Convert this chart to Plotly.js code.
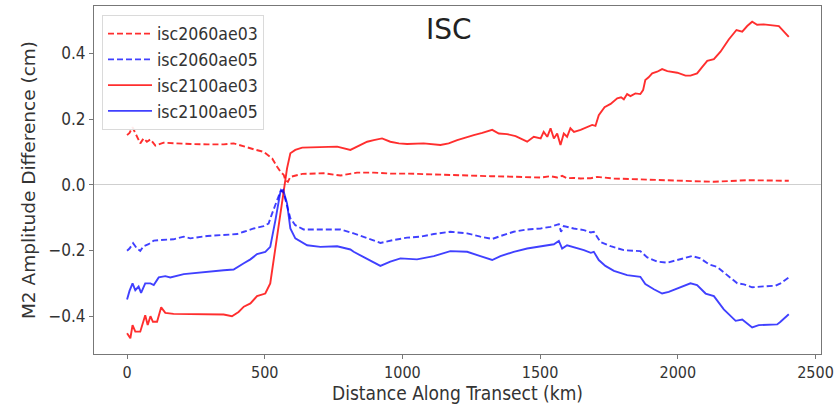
<!DOCTYPE html>
<html><head><meta charset="utf-8">
<script src="https://cdn.plot.ly/plotly-3.0.1.min.js"></script>
<style>html,body{margin:0;padding:0;background:#fff}#chart{width:838px;height:404px}</style>
</head><body><div id="chart"></div>
<script>
// isc2100ae03 (red solid)
const x2100ae03 = [0,12,20,30,48,66,75,85,94,109,124,139,169,230,351,381,405,424,448,472,502,520,545,569,581,593,611,636,714,763,811,835,872,896,926,956,987,1017,1077,1138,1168,1199,1235,1259,1290,1326,1350,1380,1411,1441,1453,1477,1502,1513,1526,1538,1550,1562,1574,1586,1598,1610,1623,1647,1671,1689,1701,1713,1734,1756,1780,1794,1804,1816,1828,1846,1864,1874,1882,1894,1907,1925,1943,1962,1998,2028,2046,2070,2089,2107,2131,2155,2185,2213,2234,2252,2270,2288,2312,2355,2367,2403];
const y2100ae03 = [-0.452,-0.467,-0.427,-0.447,-0.447,-0.397,-0.427,-0.400,-0.417,-0.417,-0.373,-0.390,-0.393,-0.393,-0.395,-0.400,-0.387,-0.371,-0.361,-0.339,-0.331,-0.300,-0.158,-0.016,0.050,0.096,0.106,0.113,0.116,0.116,0.106,0.116,0.131,0.136,0.141,0.131,0.126,0.124,0.126,0.121,0.126,0.136,0.146,0.151,0.158,0.167,0.156,0.154,0.148,0.136,0.131,0.146,0.141,0.161,0.146,0.172,0.141,0.156,0.121,0.156,0.146,0.172,0.161,0.167,0.177,0.182,0.179,0.212,0.236,0.246,0.263,0.266,0.260,0.276,0.270,0.278,0.276,0.288,0.319,0.327,0.339,0.344,0.352,0.346,0.341,0.332,0.332,0.339,0.359,0.377,0.382,0.405,0.442,0.471,0.466,0.483,0.496,0.487,0.488,0.485,0.483,0.450];
// isc2060ae03 (red dashed)
const x2060ae03 = [0,9,20,36,48,60,72,85,103,133,169,230,291,351,387,424,460,496,527,545,557,569,575,584,593,636,714,775,835,896,956,1017,1077,1138,1199,1259,1320,1380,1441,1502,1538,1562,1580,1598,1622,1647,1684,1707,1768,1889,2010,2131,2252,2325,2403];
const y2060ae03 = [0.151,0.158,0.175,0.146,0.126,0.141,0.131,0.138,0.119,0.128,0.126,0.124,0.123,0.123,0.126,0.116,0.108,0.100,0.080,0.055,0.040,0.030,0.014,0.009,0.024,0.033,0.035,0.028,0.037,0.037,0.034,0.034,0.032,0.031,0.030,0.028,0.026,0.025,0.023,0.022,0.026,0.022,0.027,0.020,0.021,0.019,0.020,0.024,0.019,0.016,0.014,0.009,0.014,0.012,0.012];
// isc2060ae05 (blue dashed)
const x2060ae05 = [0,9,22,36,48,60,78,97,121,169,206,230,291,351,400,424,460,496,514,527,545,559,569,581,593,611,641,714,775,823,872,920,968,1017,1065,1114,1174,1235,1283,1326,1356,1404,1453,1502,1538,1568,1576,1586,1622,1659,1684,1695,1719,1756,1804,1864,1889,1925,1962,2010,2052,2082,2113,2143,2179,2216,2240,2270,2300,2355,2373,2403];
const y2060ae05 = [-0.201,-0.194,-0.178,-0.194,-0.201,-0.187,-0.181,-0.170,-0.168,-0.166,-0.158,-0.163,-0.156,-0.153,-0.150,-0.143,-0.133,-0.126,-0.118,-0.087,-0.047,-0.016,-0.026,-0.067,-0.102,-0.123,-0.136,-0.136,-0.136,-0.148,-0.163,-0.177,-0.168,-0.161,-0.158,-0.150,-0.143,-0.148,-0.158,-0.165,-0.156,-0.143,-0.136,-0.133,-0.128,-0.120,-0.143,-0.126,-0.133,-0.138,-0.145,-0.143,-0.174,-0.187,-0.199,-0.202,-0.221,-0.234,-0.237,-0.227,-0.217,-0.224,-0.242,-0.250,-0.275,-0.300,-0.303,-0.312,-0.310,-0.307,-0.300,-0.282];
// isc2100ae05 (blue solid)
const x2100ae05 = [0,9,20,30,42,51,66,85,97,115,139,157,206,254,303,351,387,405,424,448,472,502,520,539,557,567,581,593,611,654,702,763,811,823,872,920,956,993,1053,1114,1174,1235,1283,1326,1356,1404,1453,1502,1526,1550,1568,1580,1598,1622,1659,1684,1695,1713,1737,1768,1816,1864,1882,1913,1943,1967,1998,2046,2070,2101,2131,2167,2210,2234,2270,2294,2361,2373,2403];
const y2100ae05 = [-0.349,-0.323,-0.300,-0.321,-0.310,-0.329,-0.300,-0.300,-0.305,-0.282,-0.278,-0.282,-0.272,-0.268,-0.262,-0.260,-0.258,-0.250,-0.239,-0.227,-0.211,-0.204,-0.189,-0.107,-0.021,-0.016,-0.057,-0.133,-0.163,-0.184,-0.189,-0.187,-0.197,-0.204,-0.227,-0.247,-0.234,-0.224,-0.227,-0.217,-0.202,-0.204,-0.217,-0.229,-0.217,-0.204,-0.194,-0.187,-0.184,-0.181,-0.171,-0.194,-0.184,-0.189,-0.199,-0.207,-0.204,-0.229,-0.247,-0.262,-0.275,-0.280,-0.302,-0.318,-0.331,-0.326,-0.315,-0.300,-0.305,-0.331,-0.339,-0.379,-0.414,-0.410,-0.434,-0.427,-0.425,-0.417,-0.394];

const seriesNames = ['isc2060ae03','isc2060ae05','isc2100ae03','isc2100ae05'];
const xTicks = [0,500,1000,1500,2000,2500];
const yTicks = [-0.4,-0.2,0,0.2,0.4];
const yTickText = ['−0.4','−0.2','0.0','0.2','0.4'];

const RED = 'rgba(255,0,0,0.82)', BLUE = 'rgba(0,0,255,0.75)';
const DASH = '6px,3px';
const mk = (x,y,name,color,dash) => ({x,y,name,type:'scatter',mode:'lines',line:{color,width:1.9,dash}});
const traces = [
  mk(x2060ae03,y2060ae03,seriesNames[0],RED,DASH),
  mk(x2060ae05,y2060ae05,seriesNames[1],BLUE,DASH),
  mk(x2100ae03,y2100ae03,seriesNames[2],RED,'solid'),
  mk(x2100ae05,y2100ae05,seriesNames[3],BLUE,'solid')
];
const FC = '"DejaVu Sans Condensed", "DejaVu Sans", sans-serif';
const F = '"DejaVu Sans", sans-serif';
const layout = {
  width:838,height:404,
  margin:{l:94,r:17,t:6,b:50},
  paper_bgcolor:'#fff',plot_bgcolor:'#fff',
  font:{family:FC,size:16,color:'#333'},
  showlegend:true,
  legend:{x:0.011,y:0.975,xanchor:'left',yanchor:'top',bgcolor:'rgba(255,255,255,0.9)',bordercolor:'#dadada',borderwidth:1,font:{family:FC,size:17.5,color:'#333'},tracegroupgap:0,itemwidth:44},
  xaxis:{range:[-120,2520],tickvals:xTicks,showgrid:false,zeroline:false,showline:true,mirror:true,linecolor:'#777',linewidth:1,ticks:'outside',ticklen:4,tickcolor:'#777',
    tickfont:{family:FC,size:16,color:'#333'},
    title:{text:'Distance Along Transect (km)',font:{family:FC,size:19,color:'#333'},standoff:2}},
  yaxis:{range:[-0.515,0.544],tickvals:yTicks,ticktext:yTickText,showgrid:false,zeroline:true,zerolinecolor:'#cfcfcf',zerolinewidth:1,showline:true,mirror:true,linecolor:'#777',linewidth:1,ticks:'outside',ticklen:4,tickcolor:'#777',
    tickfont:{family:FC,size:17,color:'#333'},
    title:{text:'M2 Amplitude Difference (cm)',font:{family:F,size:18.5,color:'#333'},standoff:7}},
  annotations:[{text:'ISC',xref:'paper',yref:'paper',x:0.488,y:0.985,xanchor:'center',yanchor:'top',showarrow:false,font:{family:F,size:28,color:'#222'}}]
};
Plotly.newPlot('chart',traces,layout,{displayModeBar:false,staticPlot:true});
</script></body></html>
